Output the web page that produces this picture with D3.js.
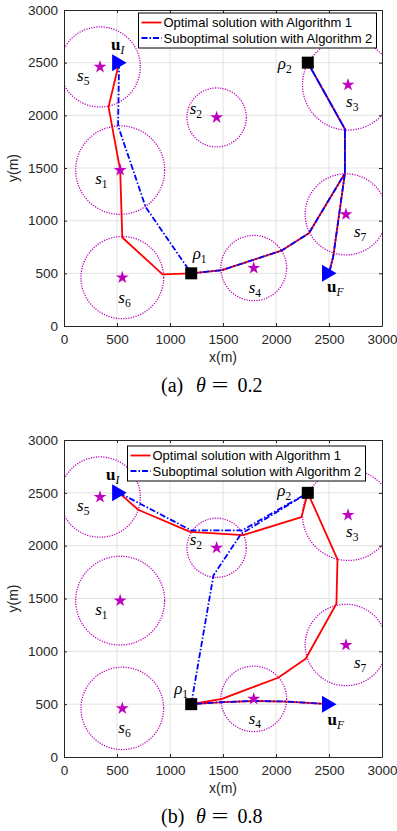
<!DOCTYPE html>
<html>
<head>
<meta charset="utf-8">
<script src="https://cdn.jsdelivr.net/npm/d3@7/dist/d3.min.js"></script>
<style>
body { margin: 0; background: #fff; }
</style>
</head>
<body>
<div id="chart"></div>
<script>
// sensors s1..s7 (m) and their coverage radius
var sensorIds = ["1", "2", "3", "4", "5", "6", "7"];
var sensorX = [530, 1440, 2680, 1790, 340, 550, 2660];
var sensorY = [1480, 1980, 2290, 550, 2460, 460, 1060];
var sensorR = [420, 280, 430, 310, 380, 390, 385];

// start / end of the UAV and the two charging points
var uStart = [520, 2500];
var uEnd = [2500, 500];
var rho1 = [1200, 500];
var rho2 = [2300, 2500];

var axisTicks = [0, 500, 1000, 1500, 2000, 2500, 3000];

// (a) theta = 0.2
var optAX = [520, 420, 530, 550, 930, 1200, 1490, 2050, 2310, 2650, 2650, 2300, 2650, 2650, 2540, 2500];
var optAY = [2500, 2080, 1480, 840, 490, 500, 530, 715, 880, 1450, 1870, 2500, 1870, 1450, 660, 500];
var subAX = [520, 510, 770, 1200, 1490, 2050, 2310, 2650, 2650, 2300, 2650, 2650, 2540, 2500];
var subAY = [2500, 1900, 1130, 500, 530, 715, 880, 1450, 1870, 2500, 1870, 1450, 660, 500];

// (b) theta = 0.8
var optBX = [520, 700, 1190, 1690, 2240, 2300, 2580, 2570, 2280, 2020, 1490, 1200, 1500, 1800, 2100, 2500];
var optBY = [2500, 2340, 2130, 2100, 2270, 2500, 1870, 1450, 930, 750, 550, 500, 520, 530, 525, 500];
var subBX = [520, 1200, 1680, 2300, 1670, 1410, 1200, 1500, 1800, 2100, 2500];
var subBY = [2500, 2145, 2145, 2500, 2110, 1720, 500, 520, 530, 525, 500];

var legendLabels = ["Optimal solution with Algorithm 1", "Suboptimal solution with Algorithm 2"];

var W = 397, H = 831;
var MAG = "#bf00bf", RED = "#ff0000", BLUE = "#0000ff", AX = "#262626";
var SERIF = "'Liberation Serif', 'DejaVu Serif', serif";
var SANS = "'Liberation Sans', Arial, sans-serif";

var svg = d3.select("#chart").append("svg")
    .attr("width", W).attr("height", H)
    .style("display", "block");

// label offsets (px) next to the sensor stars
var sensorLabelOff = [[-25, 14], [-27, -3], [-2, 22], [-5, 25], [-23, 14], [-4, 25], [8, 23]];

function starPath(R) {
    var r = R * 0.382, pts = [];
    for (var i = 0; i < 10; i++) {
        var a = -Math.PI / 2 + i * Math.PI / 5, rr = i % 2 ? r : R;
        pts.push([rr * Math.cos(a), rr * Math.sin(a)]);
    }
    return "M" + pts.join("L") + "Z";
}

function mathLabel(g, px, py, base, sub, bold) {
    var t = g.append("text").attr("x", px).attr("y", py)
        .attr("font-family", SERIF).attr("font-size", 17).attr("fill", "#000");
    t.append("tspan").text(base)
        .attr("font-style", bold ? "normal" : "italic")
        .attr("font-weight", bold ? "bold" : "normal");
    // digits stay upright in subscripts, letters are italic
    t.append("tspan").text(sub).attr("font-size", 11.5).attr("dy", 4)
        .attr("font-style", /\d/.test(sub) ? "normal" : "italic");
}

function panel(o) {
    var x = d3.scaleLinear().domain([0, 3000]).range([64, 382]);
    var y = d3.scaleLinear().domain([0, 3000]).range([o.bottom, o.top]);
    var g = svg.append("g");

    // grid
    g.selectAll(".gx").data(axisTicks.slice(1, -1)).enter().append("line")
        .attr("x1", function(d) { return x(d); }).attr("x2", function(d) { return x(d); })
        .attr("y1", y(0)).attr("y2", y(3000))
        .attr("stroke", "#e3e3e3").attr("stroke-width", 1);
    g.selectAll(".gy").data(axisTicks.slice(1, -1)).enter().append("line")
        .attr("y1", function(d) { return y(d); }).attr("y2", function(d) { return y(d); })
        .attr("x1", x(0)).attr("x2", x(3000))
        .attr("stroke", "#e3e3e3").attr("stroke-width", 1);

    var clipId = "clip" + o.id;
    g.append("clipPath").attr("id", clipId).append("rect")
        .attr("x", x(0)).attr("y", y(3000))
        .attr("width", x(3000) - x(0)).attr("height", y(0) - y(3000));
    var plot = g.append("g").attr("clip-path", "url(#" + clipId + ")");

    // coverage circles
    plot.selectAll(".cov").data(sensorIds).enter().append("ellipse")
        .attr("cx", function(d, i) { return x(sensorX[i]); })
        .attr("cy", function(d, i) { return y(sensorY[i]); })
        .attr("rx", function(d, i) { return x(sensorR[i]) - x(0); })
        .attr("ry", function(d, i) { return y(0) - y(sensorR[i]); })
        .attr("fill", "none").attr("stroke", MAG).attr("stroke-width", 1.3)
        .attr("stroke-dasharray", "1.2,1.3");

    var line = d3.line().x(function(d) { return x(d[0]); }).y(function(d) { return y(d[1]); });
    var opt = d3.zip(o.optX, o.optY), sub = d3.zip(o.subX, o.subY);
    plot.append("path").attr("d", line(opt)).attr("fill", "none")
        .attr("stroke", RED).attr("stroke-width", 1.8).attr("stroke-linejoin", "round");
    plot.append("path").attr("d", line(sub)).attr("fill", "none")
        .attr("stroke", BLUE).attr("stroke-width", 1.8)
        .attr("stroke-dasharray", "6,2,1.5,2");

    // sensors
    var sp = starPath(6.8);
    g.selectAll(".star").data(sensorIds).enter().append("path")
        .attr("d", sp).attr("fill", MAG)
        .attr("transform", function(d, i) { return "translate(" + x(sensorX[i]) + "," + y(sensorY[i]) + ")"; });
    sensorIds.forEach(function(d, i) {
        mathLabel(g, x(sensorX[i]) + sensorLabelOff[i][0], y(sensorY[i]) + sensorLabelOff[i][1], "s", d, false);
    });

    // start / end triangles
    [uStart, uEnd].forEach(function(p) {
        g.append("path").attr("d", "M-7,-8.5L7.5,0L-7,8.5Z").attr("fill", BLUE)
            .attr("transform", "translate(" + x(p[0]) + "," + y(p[1]) + ")");
    });
    // charging points
    [rho1, rho2].forEach(function(p) {
        g.append("rect").attr("x", x(p[0]) - 6).attr("y", y(p[1]) - 6)
            .attr("width", 12).attr("height", 12).attr("fill", "#000");
    });
    mathLabel(g, x(uStart[0]) + o.uIOff[0], y(uStart[1]) + o.uIOff[1], "u", "I", true);
    mathLabel(g, x(uEnd[0]) + o.uFOff[0], y(uEnd[1]) + o.uFOff[1], "u", "F", true);
    mathLabel(g, x(rho1[0]) + o.r1Off[0], y(rho1[1]) + o.r1Off[1], "\u03c1", "1", false);
    mathLabel(g, x(rho2[0]) + o.r2Off[0], y(rho2[1]) + o.r2Off[1], "\u03c1", "2", false);

    // axes, box with inward ticks
    var fmt = d3.format("d");
    var ax = [
        g.append("g").attr("transform", "translate(0," + y(0) + ")")
            .call(d3.axisBottom(x).tickValues(axisTicks).tickFormat(fmt).tickSize(-3).tickSizeOuter(0).tickPadding(8)),
        g.append("g").attr("transform", "translate(" + x(0) + ",0)")
            .call(d3.axisLeft(y).tickValues(axisTicks).tickFormat(fmt).tickSize(-3).tickSizeOuter(0).tickPadding(6)),
        g.append("g").attr("transform", "translate(0," + y(3000) + ")")
            .call(d3.axisTop(x).tickValues(axisTicks).tickSize(-3).tickSizeOuter(0).tickFormat("")),
        g.append("g").attr("transform", "translate(" + x(3000) + ",0)")
            .call(d3.axisRight(y).tickValues(axisTicks).tickSize(-3).tickSizeOuter(0).tickFormat(""))
    ];
    ax.forEach(function(a) {
        a.select(".domain").attr("stroke", AX).attr("stroke-width", 1);
        a.selectAll(".tick line").attr("stroke", AX);
        a.selectAll(".tick text").attr("fill", AX).attr("font-size", 13.5).attr("font-family", SANS);
    });

    g.append("text").attr("x", (x(0) + x(3000)) / 2).attr("y", y(0) + 36)
        .attr("text-anchor", "middle").attr("font-family", SANS).attr("font-size", 14)
        .attr("fill", AX).text("x(m)");
    g.append("text").attr("transform", "translate(18," + (y(1500)) + ") rotate(-90)")
        .attr("text-anchor", "middle").attr("font-family", SANS).attr("font-size", 14)
        .attr("fill", AX).text("y(m)");

    // legend
    var lg = g.append("g").attr("transform", "translate(" + o.legend[0] + "," + o.legend[1] + ")");
    lg.append("rect").attr("x", 0).attr("y", 0).attr("width", 238).attr("height", 35)
        .attr("fill", "#fff").attr("stroke", "#000").attr("stroke-width", 1);
    legendLabels.forEach(function(t, i) {
        var ly = 9.5 + i * 15.5;
        lg.append("line").attr("x1", 3).attr("x2", 23).attr("y1", ly).attr("y2", ly)
            .attr("stroke", i ? BLUE : RED).attr("stroke-width", 1.8)
            .attr("stroke-dasharray", i ? "6,2,1.5,2" : null);
        lg.append("text").attr("x", 25).attr("y", ly + 4.5)
            .attr("font-family", SANS).attr("font-size", 13).attr("fill", "#000").text(t);
    });

    // caption
    var cap = g.append("text").attr("y", o.captionY)
        .attr("font-family", SERIF).attr("font-size", 20).attr("fill", "#000");
    cap.append("tspan").attr("x", 161).text("(" + o.letter + ")");
    cap.append("tspan").attr("x", 196).attr("font-style", "italic").text("\u03b8");
    cap.append("tspan").attr("x", 211.5).attr("textLength", 17)
        .attr("lengthAdjust", "spacingAndGlyphs").text("=");
    cap.append("tspan").attr("x", 237.5).text(o.theta);
}

panel({
    id: "a", top: 10, bottom: 326, letter: "a", theta: "0.2", captionY: 392,
    optX: optAX, optY: optAY, subX: subAX, subY: subAY,
    legend: [138.5, 13],
    uIOff: [-8, -12.5], uFOff: [-2, 19], r1Off: [1.5, -14], r2Off: [-30, 6]
});
panel({
    id: "b", top: 440, bottom: 757, letter: "b", theta: "0.8", captionY: 823,
    optX: optBX, optY: optBY, subX: subBX, subY: subBY,
    legend: [127.5, 446],
    uIOff: [-13, -12.5], uFOff: [-1.5, 21], r1Off: [-17, -10], r2Off: [-30.5, 3]
});
</script>
</body>
</html>
